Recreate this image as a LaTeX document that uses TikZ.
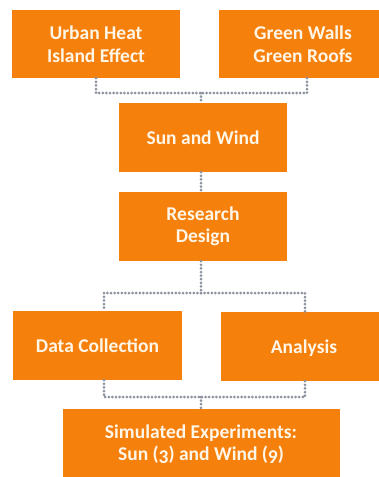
\documentclass[tikz,border=0pt]{standalone}
\usepackage{fontspec}
\setmainfont{Carlito}
\definecolor{boxorange}{RGB}{245,128,12}
\definecolor{boxtext}{RGB}{255,246,232}
\definecolor{dotgray}{RGB}{140,146,158}
\newcommand{\osf}[1]{\raisebox{-0.3ex}{#1}}
\begin{document}
\begin{tikzpicture}[x=1pt,y=-1pt,
  box/.style={fill=boxorange, draw=none, inner sep=0pt, align=center,
    text=boxtext, font=\bfseries\fontsize{19.5}{22.5}\selectfont},
  oneline/.style={text height=15pt, text depth=2pt},
  link/.style={draw=dotgray, line width=3pt, dash pattern=on 0pt off 3.6pt, line cap=round}]
\useasboundingbox (0,0) rectangle (379,477);
\fill[white] (0,0) rectangle (379,477);
\node[box, minimum width=168pt, minimum height=68pt] (uhi) at (96,44) {Urban Heat\\Island Effect};
\node[box, minimum width=168pt, minimum height=68pt] (gw) at (303,44) {Green Walls\\Green Roofs};
\node[box, oneline, minimum width=168pt, minimum height=69pt] (sw) at (203,137.5) {Sun and Wind};
\node[box, minimum width=168pt, minimum height=69pt] (rd) at (203,226.5) {Research\\Design};
\node[box, oneline, minimum width=169pt, minimum height=69pt] (dc) at (97.5,345.5) {Data Collection};
\node[box, oneline, minimum width=166pt, minimum height=69pt] (an) at (304,346.5) {Analysis};
\node[box, minimum width=277pt, minimum height=70pt] (se) at (201,444) {Simulated Experiments:\\Sun (\osf{3}) and Wind (\osf{9})};
\coordinate (j1) at (201,93);
\coordinate (j2) at (201,293);
\coordinate (j3) at (201,397);
\draw[link] (uhi.south -| 96,0) |- (j1);
\draw[link] (gw.south -| 307,0) |- (j1);
\draw[link] (j1) -- (sw.north -| j1);
\draw[link] (sw.south -| j1) -- (rd.north -| j1);
\draw[link] (rd.south -| j2) -- (j2);
\draw[link] (j2) -| (dc.north -| 104,0);
\draw[link] (j2) -| (an.north -| 305,0);
\draw[link] (dc.south -| 104,0) |- (j3);
\draw[link] (an.south -| 305,0) |- (j3);
\draw[link] (j3) -- (se.north -| j3);
\end{tikzpicture}
\end{document}
